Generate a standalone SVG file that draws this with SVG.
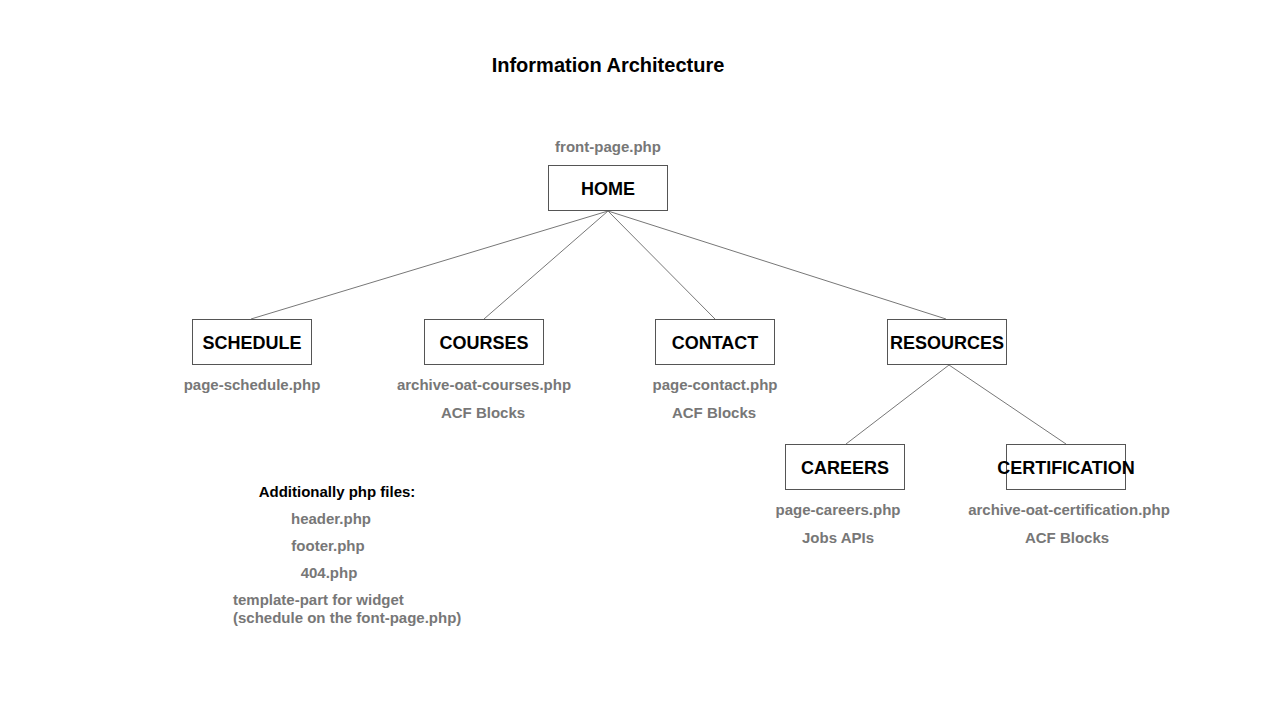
<svg xmlns="http://www.w3.org/2000/svg" width="1280" height="720" viewBox="0 0 1280 720">
<style>
.box{fill:#fff;stroke:#555;stroke-width:1}
.lbl{font-family:"Liberation Sans",Arial,sans-serif;font-weight:bold;font-size:18px;fill:#000;text-anchor:middle}
.sub{font-family:"Liberation Sans",Arial,sans-serif;font-weight:bold;font-size:15px;fill:#777;text-anchor:middle}
.title{font-family:"Liberation Sans",Arial,sans-serif;font-weight:bold;font-size:20px;fill:#000;text-anchor:middle}
.conn{stroke:#777;stroke-width:1;fill:none}
</style>
<rect width="1280" height="720" fill="#fff"/>
<text class="title" x="608" y="72">Information Architecture</text>
<g id="connectors">
<line class="conn" x1="608" y1="211" x2="251" y2="319"/>
<line class="conn" x1="608" y1="211" x2="484" y2="319"/>
<line class="conn" x1="608" y1="211" x2="715" y2="319"/>
<line class="conn" x1="608" y1="211" x2="946" y2="319"/>
<line class="conn" x1="949" y1="365" x2="846" y2="444"/>
<line class="conn" x1="949" y1="365" x2="1066" y2="444"/>
</g>
<g id="home">
<text class="sub" x="608" y="152">front-page.php</text>
<rect class="box" x="548.5" y="165.5" width="119" height="45"/>
<text class="lbl" x="608" y="195">HOME</text>
</g>
<g id="schedule">
<rect class="box" x="192.5" y="319.5" width="119" height="45"/>
<text class="lbl" x="252" y="349">SCHEDULE</text>
<text class="sub" x="252" y="390">page-schedule.php</text>
</g>
<g id="courses">
<rect class="box" x="424.5" y="319.5" width="119" height="45"/>
<text class="lbl" x="484" y="349">COURSES</text>
<text class="sub" x="484" y="390">archive-oat-courses.php</text>
<text class="sub" x="483" y="418">ACF Blocks</text>
</g>
<g id="contact">
<rect class="box" x="655.5" y="319.5" width="119" height="45"/>
<text class="lbl" x="715" y="349">CONTACT</text>
<text class="sub" x="715" y="390">page-contact.php</text>
<text class="sub" x="714" y="418">ACF Blocks</text>
</g>
<g id="resources">
<rect class="box" x="887.5" y="319.5" width="119" height="45"/>
<text class="lbl" x="947" y="349">RESOURCES</text>
</g>
<g id="careers">
<rect class="box" x="785.5" y="444.5" width="119" height="45"/>
<text class="lbl" x="845" y="474">CAREERS</text>
<text class="sub" x="838" y="515">page-careers.php</text>
<text class="sub" x="838" y="543">Jobs APIs</text>
</g>
<g id="certification">
<rect class="box" x="1006.5" y="444.5" width="119" height="45"/>
<text class="lbl" x="1066" y="474">CERTIFICATION</text>
<text class="sub" x="1069" y="515">archive-oat-certification.php</text>
<text class="sub" x="1067" y="543">ACF Blocks</text>
</g>
<g id="additional">
<text class="sub" x="337" y="497" style="fill:#000">Additionally php files:</text>
<text class="sub" x="331" y="524">header.php</text>
<text class="sub" x="328" y="551">footer.php</text>
<text class="sub" x="329" y="578">404.php</text>
<text class="sub" x="233" y="605" style="text-anchor:start">template-part for widget</text>
<text class="sub" x="233" y="623" style="text-anchor:start">(schedule on the font-page.php)</text>
</g>
</svg>
